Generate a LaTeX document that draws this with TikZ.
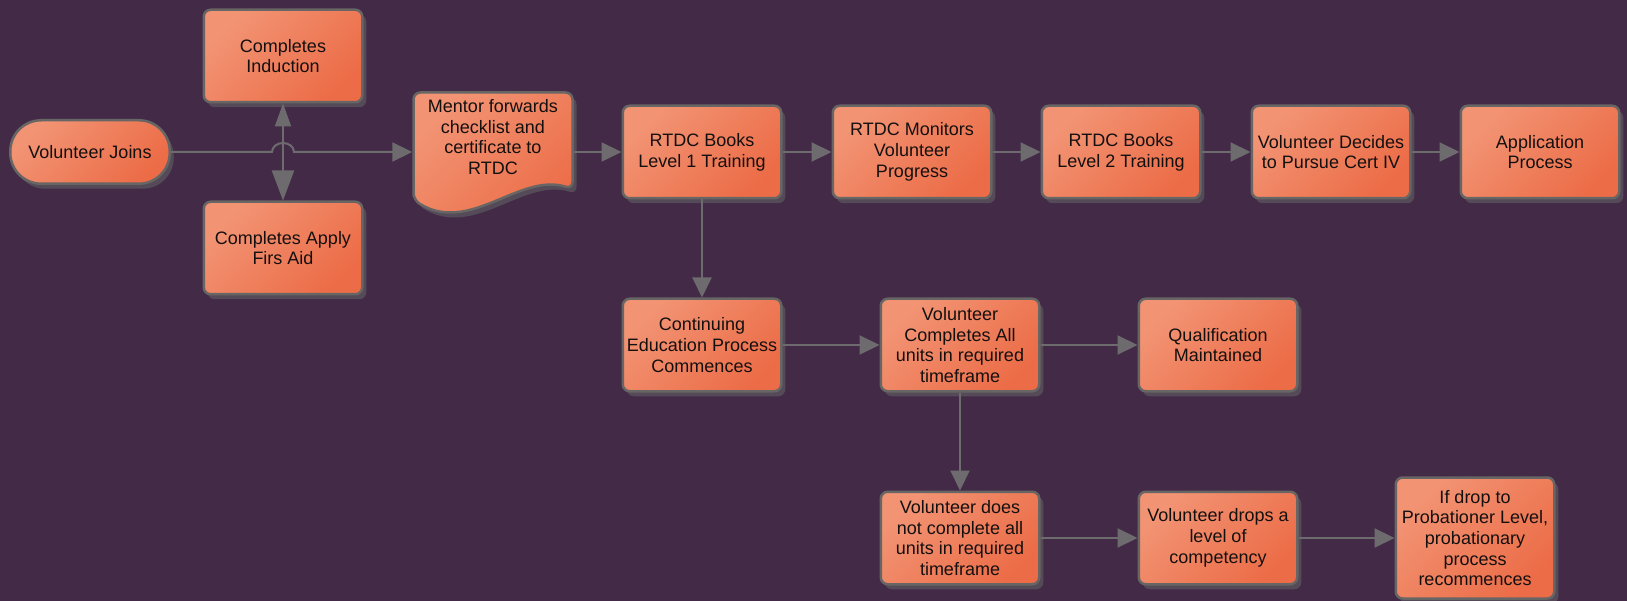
\documentclass[tikz,border=0pt]{standalone}
\usepackage{fontspec}
\setmainfont{Liberation Sans}
\usetikzlibrary{arrows.meta,shadows}
\definecolor{bgc}{HTML}{432B48}
\definecolor{boxl}{HTML}{F29474}
\definecolor{boxd}{HTML}{EC6C47}
\definecolor{bordc}{HTML}{686565}
\definecolor{linec}{HTML}{6E6B6E}
\definecolor{shadc}{HTML}{554A58}
\definecolor{txtc}{HTML}{141010}
\newcommand{\boxfont}{\fontsize{18}{20.7}\selectfont}
\begin{document}
\begin{tikzpicture}[x=1pt,y=-1pt,
  skin/.style={draw=bordc, line width=2.5pt, rounded corners=7pt,
    top color=boxl, bottom color=boxd, shading angle=45,
    drop shadow={shadow xshift=4pt, shadow yshift=-5pt, fill=shadc, opacity=1}},
  box/.style={skin, minimum width=158.5pt, minimum height=92.5pt,
    align=center, inner sep=1pt, font=\boxfont, text=txtc},
  txt/.style={align=center, inner sep=1pt, font=\boxfont, text=txtc},
  conn/.style={draw=linec, line width=2pt, -{Triangle[length=20pt,width=19pt]}}
]
\useasboundingbox (0,0) rectangle (1627,601);
\fill[bgc] (0,0) rectangle (1627,601);

% nodes
\node[box, rounded corners=31pt, minimum width=159.5pt, minimum height=63.5pt] (VJ) at (90,152) {Volunteer Joins};
\node[box] (CI) at (283,56) {Completes\\Induction};
\node[box] (CFA) at (283,248) {Completes Apply\\Firs Aid};

% document shape
\path[skin] (413.5,200) -- (413.5,92.5) -- (572.5,92.5) -- (572.5,189)
  .. controls (520,172) and (470,235) .. (413.5,200) -- cycle;
\node[minimum width=161pt, minimum height=122pt, inner sep=0pt] (MF) at (493,152) {};
\node[txt] (MFt) at (493,137) {Mentor forwards\\checklist and\\certificate to\\RTDC};

\node[box] (L1) at (702,152) {RTDC Books\\Level 1 Training};
\node[box] (Mon) at (912,152) {RTDC Monitors\\Volunteer\\Progress};
\node[box] (L2) at (1121,152) {RTDC Books\\Level 2 Training};
\node[box] (VD) at (1331,152) {Volunteer Decides\\to Pursue Cert IV};
\node[box] (AP) at (1540,152) {Application\\Process};

\node[box] (CE) at (702,345) {Continuing\\Education Process\\Commences};
\node[box] (VC) at (960,345) {Volunteer\\Completes All\\units in required\\timeframe};
\node[box] (QM) at (1218,345) {Qualification\\Maintained};

\node[box] (VDN) at (960,538) {Volunteer does\\not complete all\\units in required\\timeframe};
\node[box] (VDr) at (1218,538) {Volunteer drops a\\level of\\competency};
\node[box, minimum height=121pt] (ID) at (1475,538) {If drop to\\Probationer Level,\\probationary\\process\\recommences};

% connectors
\draw[draw=linec, line width=2pt, {Triangle[length=23pt,width=16pt]}-{Triangle[length=30pt,width=22pt]}] (CI.south) -- (CFA.north);
\draw[conn] (VJ.east) -- (272,152) arc[start angle=180, end angle=360, x radius=11, y radius=9] -- (MF.west);
\draw[conn] (MF.east) -- (L1.west);
\draw[conn] (L1.east) -- (Mon.west);
\draw[conn] (Mon.east) -- (L2.west);
\draw[conn] (L2.east) -- (VD.west);
\draw[conn] (VD.east) -- (AP.west);
\draw[conn] (L1.south) -- (CE.north);
\draw[conn] (CE.east) -- (VC.west);
\draw[conn] (VC.east) -- (QM.west);
\draw[conn] (VC.south) -- (VDN.north);
\draw[conn] (VDN.east) -- (VDr.west);
\draw[conn] (VDr.east) -- (ID.west);
\end{tikzpicture}
\end{document}
